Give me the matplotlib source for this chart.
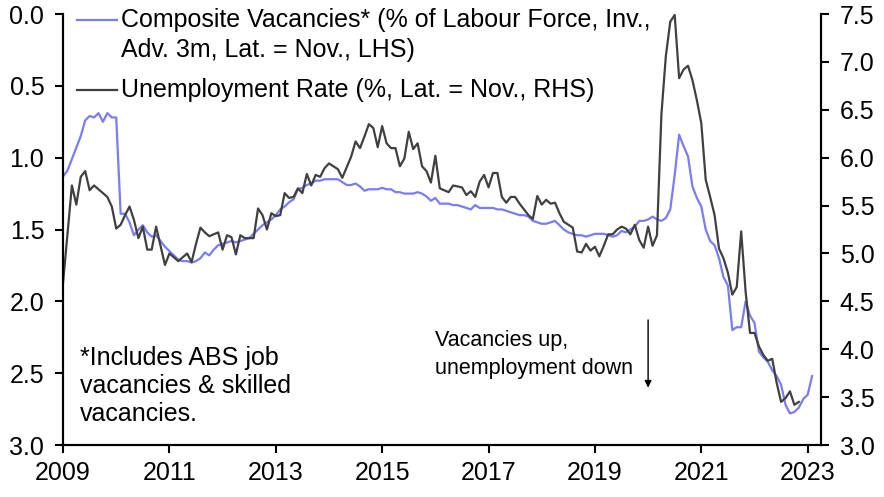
import matplotlib

matplotlib.use("Agg")
import matplotlib.pyplot as plt
import numpy as np
import pandas as pd

plt.rcParams["font.family"] = ["Liberation Sans", "DejaVu Sans"]

# Composite vacancies (% of labour force, inverted, advanced 3m), monthly from Jan 2009
vacancies = [
    1.13, 1.09, 1.01, 0.93, 0.85, 0.74, 0.71, 0.72, 0.69, 0.75, 0.69, 0.72,  # 2009
    0.72, 1.39, 1.39, 1.45, 1.54, 1.50, 1.47, 1.52, 1.55, 1.54, 1.58, 1.62,  # 2010
    1.65, 1.68, 1.71, 1.72, 1.72, 1.73, 1.72, 1.70, 1.66, 1.68, 1.64, 1.61,  # 2011
    1.60, 1.59, 1.58, 1.59, 1.58, 1.57, 1.56, 1.53, 1.50, 1.47, 1.45, 1.43,  # 2012
    1.40, 1.36, 1.34, 1.31, 1.29, 1.22, 1.21, 1.19, 1.18, 1.16, 1.16, 1.15,  # 2013
    1.15, 1.15, 1.15, 1.17, 1.19, 1.19, 1.18, 1.20, 1.23, 1.22, 1.22, 1.22,  # 2014
    1.21, 1.22, 1.22, 1.24, 1.24, 1.25, 1.25, 1.25, 1.24, 1.25, 1.27, 1.30,  # 2015
    1.28, 1.32, 1.32, 1.32, 1.33, 1.33, 1.34, 1.35, 1.36, 1.33, 1.35, 1.35,  # 2016
    1.35, 1.35, 1.36, 1.36, 1.37, 1.38, 1.39, 1.40, 1.40, 1.41, 1.44, 1.45,  # 2017
    1.46, 1.46, 1.45, 1.44, 1.47, 1.50, 1.52, 1.53, 1.54, 1.54, 1.55, 1.54,  # 2018
    1.53, 1.53, 1.53, 1.54, 1.55, 1.54, 1.51, 1.52, 1.50, 1.48, 1.44, 1.44,  # 2019
    1.43, 1.41, 1.43, 1.44, 1.42, 1.36, 1.12, 0.84, 0.92, 0.99, 1.20, 1.28,  # 2020
    1.34, 1.50, 1.58, 1.61, 1.70, 1.83, 1.89, 2.20, 2.18, 2.18, 2.00, 2.10,  # 2021
    2.15, 2.35, 2.39, 2.42, 2.48, 2.52, 2.58, 2.72, 2.78, 2.77, 2.74, 2.68,  # 2022
    2.65, 2.52,  # 2023
]

# Unemployment rate (%), monthly from Jan 2009
unemployment = [
    4.69, 5.20, 5.71, 5.51, 5.80, 5.86, 5.66, 5.71, 5.67, 5.63, 5.59, 5.49,  # 2009
    5.26, 5.30, 5.40, 5.49, 5.35, 5.16, 5.28, 5.04, 5.04, 5.28, 5.08, 4.88,  # 2010
    5.00, 4.96, 4.92, 4.96, 5.00, 4.91, 5.10, 5.27, 5.22, 5.18, 5.20, 5.22,  # 2011
    5.04, 5.19, 5.17, 4.99, 5.19, 5.16, 5.16, 5.16, 5.47, 5.40, 5.25, 5.42,  # 2012
    5.39, 5.40, 5.63, 5.58, 5.59, 5.68, 5.63, 5.83, 5.71, 5.82, 5.80, 5.89,  # 2013
    5.94, 5.91, 5.88, 5.79, 5.90, 6.01, 6.17, 6.10, 6.22, 6.35, 6.31, 6.11,  # 2014
    6.33, 6.15, 6.10, 6.10, 5.91, 5.99, 6.27, 6.09, 6.15, 5.91, 5.86, 5.74,  # 2015
    6.02, 5.68, 5.66, 5.64, 5.71, 5.70, 5.69, 5.61, 5.65, 5.59, 5.75, 5.82,  # 2016
    5.69, 5.84, 5.84, 5.59, 5.53, 5.59, 5.59, 5.52, 5.46, 5.40, 5.36, 5.60,  # 2017
    5.51, 5.56, 5.52, 5.53, 5.42, 5.33, 5.30, 5.27, 5.02, 5.01, 5.10, 5.03,  # 2018
    5.07, 4.97, 5.08, 5.20, 5.20, 5.25, 5.28, 5.26, 5.20, 5.30, 5.14, 5.06,  # 2019
    5.28, 5.08, 5.19, 6.45, 7.06, 7.42, 7.49, 6.83, 6.92, 6.96, 6.81, 6.60,  # 2020
    6.36, 5.77, 5.59, 5.40, 5.05, 4.95, 4.80, 4.57, 4.65, 5.23, 4.60, 4.17,  # 2021
    4.17, 4.03, 3.94, 3.88, 3.90, 3.65, 3.45, 3.49, 3.56, 3.42, 3.45,  # 2022
]

left_ticks = [0.0, 0.5, 1.0, 1.5, 2.0, 2.5, 3.0]
right_ticks = [3.0, 3.5, 4.0, 4.5, 5.0, 5.5, 6.0, 6.5, 7.0, 7.5]
year_ticks = [2009, 2011, 2013, 2015, 2017, 2019, 2021, 2023]

vac_label = "Composite Vacancies* (% of Labour Force, Inv.,"
vac_label2 = "Adv. 3m, Lat. = Nov., LHS)"
unemp_label = "Unemployment Rate (%, Lat. = Nov., RHS)"
note = "*Includes ABS job\nvacancies & skilled\nvacancies."
callout = "Vacancies up,\nunemployment down"


def decimal_years(n):
    dates = pd.date_range("2009-01-01", periods=n, freq="MS")
    return np.asarray(dates.year + (dates.month - 1) / 12.0)


BLUE = "#7B7BF5"
GREY = "#404040"
FS = 18

fig = plt.figure(figsize=(8.84, 4.97), dpi=100)
ax = fig.add_axes([0.0713, 0.1046, 0.8574, 0.8672])
ax2 = ax.twinx()

ax.plot(decimal_years(len(vacancies)), vacancies, color=BLUE, lw=1.6)
ax2.plot(decimal_years(len(unemployment)), unemployment, color=GREY, lw=1.6)

ax.set_xlim(2009, 2023.25)
ax.set_ylim(3.0, 0.0)
ax2.set_ylim(3.0, 7.5)
ax.set_xticks(year_ticks)
ax.set_yticks(left_ticks)
ax2.set_yticks(right_ticks)
ax.set_yticklabels([f"{t:.1f}" for t in left_ticks])
ax2.set_yticklabels([f"{t:.1f}" for t in right_ticks])

for a in (ax, ax2):
    a.spines["top"].set_visible(False)
    for s in ("left", "right", "bottom"):
        a.spines[s].set_linewidth(1.5)
    a.tick_params(axis="both", direction="out", length=5.5, width=1.5,
                  labelsize=FS)
    a.tick_params(axis="y", pad=8)
    a.tick_params(axis="x", pad=6)

# legend drawn by hand so the blue handle sits on the first line of its label
tr = ax2.transAxes
ax2.plot([0.018, 0.071], [0.986, 0.986], color=BLUE, lw=1.6, transform=tr,
         clip_on=False)
ax2.plot([0.018, 0.071], [0.824, 0.824], color=GREY, lw=1.6, transform=tr,
         clip_on=False)
ax2.text(0.0765, 0.986, vac_label, transform=tr, fontsize=FS, va="center")
ax2.text(0.0765, 0.916, vac_label2, transform=tr, fontsize=FS, va="center")
ax2.text(0.0765, 0.824, unemp_label, transform=tr, fontsize=FS, va="center")

ax2.text(0.0224, 0.137, note, transform=tr, fontsize=FS, va="center",
         linespacing=1.2)

ax.text(2016.0, 2.37, callout, fontsize=15.5, ha="left", va="center",
        linespacing=1.43)
ax.annotate("", xy=(2020.0, 2.62), xytext=(2020.0, 2.11),
            arrowprops=dict(arrowstyle="-|>", color="black", lw=1.0,
                            mutation_scale=10))

fig.savefig("out.png", dpi=100)
